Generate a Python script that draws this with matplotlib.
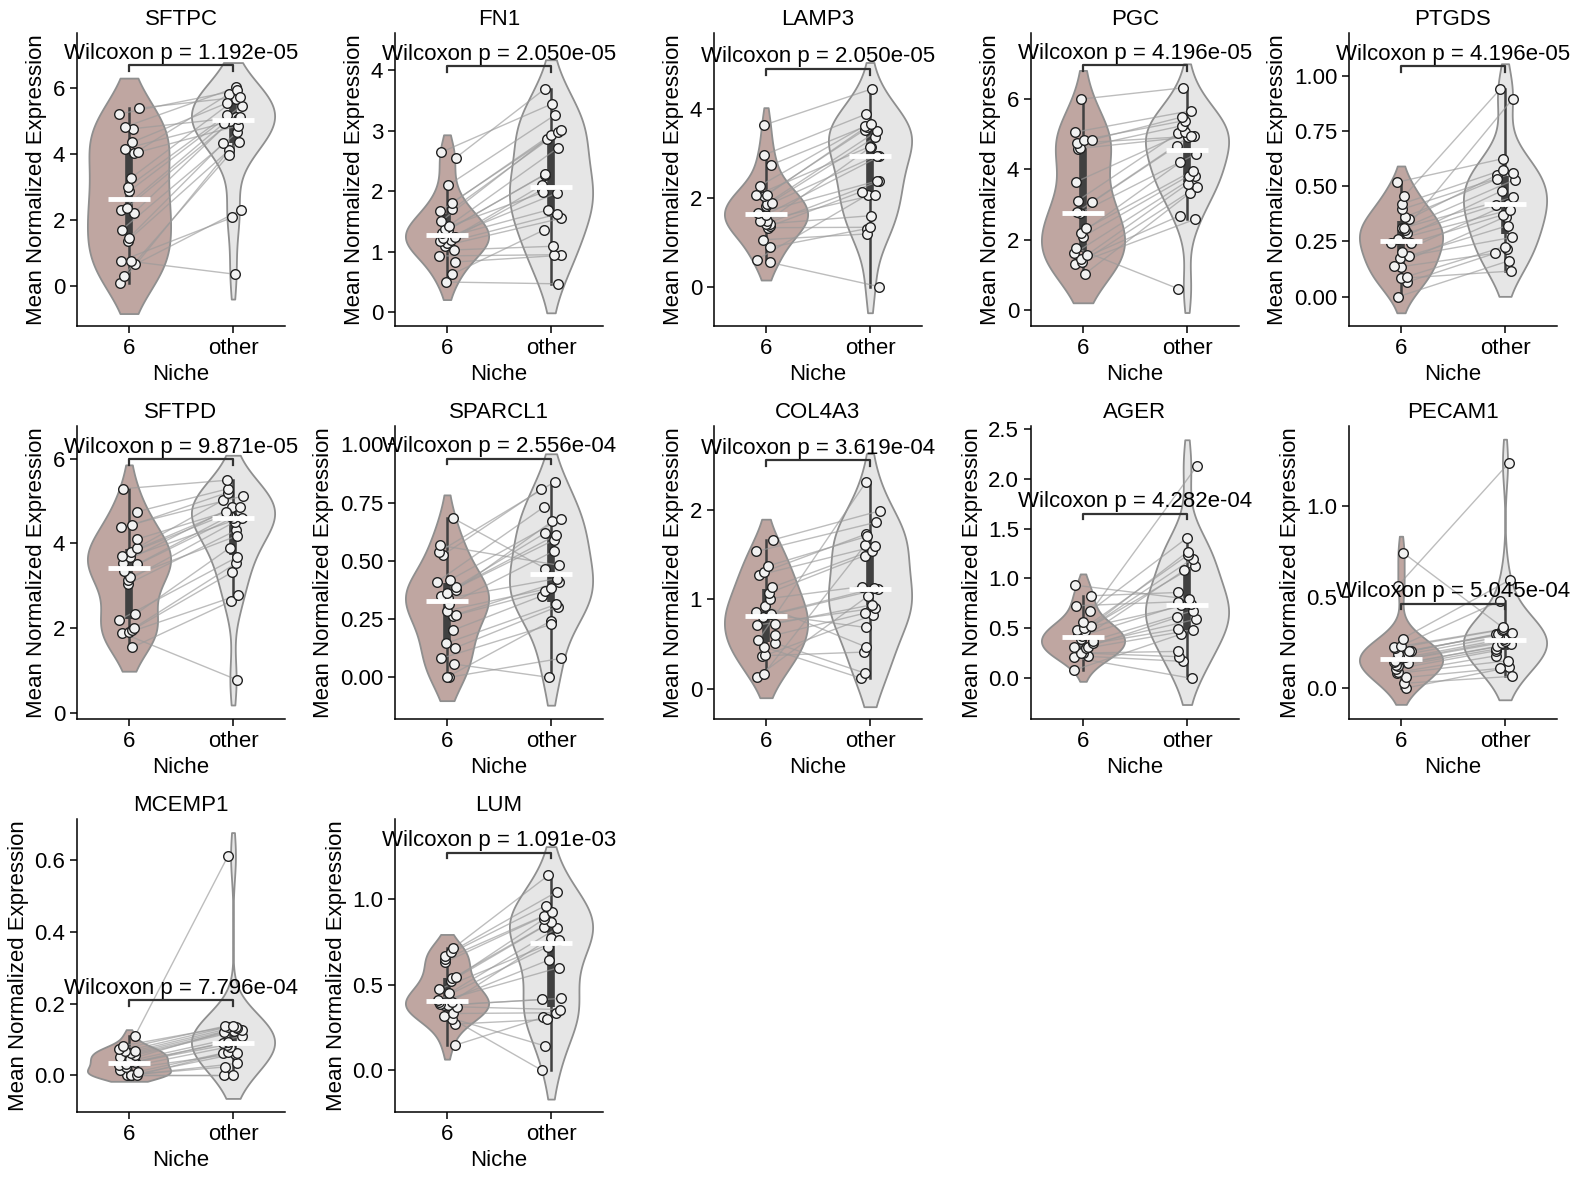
import numpy as np
import matplotlib
matplotlib.use('Agg')
import matplotlib.pyplot as plt

plt.rcParams['font.family'] = ['Liberation Sans', 'DejaVu Sans']

# paired values per gene: niche "6" and "other" (same order = same sample)
sftpc_6 = [0.08, 0.32, 0.66, 0.75, 0.76, 1.37, 1.45, 1.71, 2.22, 2.30, 2.37, 2.88, 3.00, 3.27, 4.02, 4.06, 4.16, 4.36, 4.77, 4.82, 5.21, 5.39]
sftpc_other = [4.11, 3.98, 2.31, 0.36, 2.08, 4.38, 4.33, 4.66, 5.00, 4.95, 5.12, 5.47, 5.19, 5.67, 5.82, 4.86, 5.05, 5.55, 5.12, 6.02, 5.93, 5.73]

fn1_6 = [0.50, 0.63, 0.83, 0.93, 1.03, 1.10, 1.15, 1.18, 1.20, 1.22, 1.25, 1.31, 1.36, 1.38, 1.42, 1.50, 1.67, 1.70, 1.81, 2.10, 2.55, 2.64]
fn1_other = [0.47, 1.36, 0.94, 0.95, 1.09, 1.55, 1.62, 1.97, 2.02, 1.69, 2.10, 2.27, 2.28, 2.72, 1.98, 2.86, 2.93, 2.97, 3.01, 3.26, 3.69, 3.44]

lamp3_6 = [0.55, 0.61, 0.89, 1.06, 1.33, 1.36, 1.42, 1.42, 1.47, 1.47, 1.62, 1.65, 1.82, 1.87, 1.88, 2.04, 2.06, 2.06, 2.27, 2.74, 2.96, 3.63]
lamp3_other = [0.01, 2.07, 1.31, 1.19, 1.34, 2.14, 1.60, 2.37, 3.15, 2.07, 2.93, 2.38, 3.36, 3.49, 2.95, 3.53, 3.15, 3.60, 3.62, 3.66, 3.88, 4.45]

pgc_6 = [1.02, 1.30, 1.36, 1.44, 1.57, 1.61, 1.76, 2.09, 2.18, 2.32, 2.75, 2.78, 3.06, 3.11, 3.64, 4.59, 4.61, 4.75, 4.84, 4.84, 5.06, 6.00]
pgc_other = [3.34, 2.58, 3.51, 2.68, 3.59, 3.80, 0.61, 3.82, 4.20, 3.96, 4.44, 4.91, 4.67, 5.03, 5.05, 4.94, 5.24, 4.94, 5.39, 5.49, 5.67, 6.32]

ptgds_6 = [0.0, 0.065, 0.083, 0.091, 0.136, 0.139, 0.177, 0.185, 0.204, 0.242, 0.242, 0.26, 0.287, 0.303, 0.310, 0.313, 0.352, 0.360, 0.396, 0.421, 0.457, 0.519]
ptgds_other = [0.162, 0.215, 0.116, 0.227, 0.197, 0.363, 0.269, 0.322, 0.42, 0.371, 0.48, 0.393, 0.416, 0.896, 0.45, 0.530, 0.552, 0.533, 0.560, 0.575, 0.941, 0.625]

sftpd_6 = [1.55, 1.89, 1.90, 1.96, 2.00, 2.19, 2.33, 3.04, 3.13, 3.22, 3.35, 3.51, 3.55, 3.68, 3.70, 3.81, 3.90, 4.10, 4.39, 4.43, 4.75, 5.29]
sftpd_other = [2.64, 0.78, 2.78, 3.32, 3.53, 3.67, 3.90, 4.31, 4.51, 4.18, 4.61, 4.65, 4.85, 4.61, 4.69, 4.75, 5.02, 4.85, 5.12, 5.20, 5.29, 5.49]

sparcl1_6 = [0.0, 0.0, 0.057, 0.081, 0.126, 0.146, 0.203, 0.264, 0.269, 0.286, 0.314, 0.34, 0.35, 0.364, 0.374, 0.386, 0.41, 0.419, 0.526, 0.540, 0.567, 0.683]
sparcl1_other = [0.081, 0.243, 0.0, 0.227, 0.304, 0.313, 0.35, 0.369, 0.41, 0.384, 0.543, 0.424, 0.589, 0.61, 0.669, 0.62, 0.733, 0.681, 0.807, 0.84, 0.481, 0.467]

col4a3_6 = [0.13, 0.167, 0.368, 0.372, 0.465, 0.509, 0.539, 0.599, 0.71, 0.725, 0.80, 0.83, 0.851, 0.926, 1.007, 1.067, 1.134, 1.268, 1.305, 1.372, 1.532, 1.662]
col4a3_other = [1.037, 1.599, 0.409, 0.825, 0.119, 0.175, 2.305, 0.844, 0.9, 0.937, 1.112, 1.12, 0.684, 0.465, 1.141, 1.487, 1.543, 1.59, 1.725, 1.70, 1.859, 1.985]

ager_6 = [0.083, 0.21, 0.22, 0.253, 0.253, 0.30, 0.317, 0.317, 0.35, 0.377, 0.393, 0.427, 0.443, 0.477, 0.487, 0.50, 0.527, 0.56, 0.67, 0.727, 0.827, 0.933]
ager_other = [0.443, 0.0, 0.17, 0.217, 0.27, 0.487, 0.61, 0.493, 0.593, 0.677, 1.083, 0.733, 1.127, 1.2, 0.743, 1.233, 1.267, 2.127, 1.41, 0.767, 0.86, 0.793]

pecam1_6 = [0.0, 0.026, 0.058, 0.08, 0.086, 0.104, 0.12, 0.126, 0.14, 0.145, 0.15, 0.168, 0.177, 0.186, 0.205, 0.205, 0.218, 0.223, 0.232, 0.272, 0.561, 0.744]
pecam1_other = [0.113, 0.064, 0.108, 0.15, 0.177, 0.205, 0.214, 0.229, 0.24, 0.25, 0.26, 0.269, 0.28, 0.296, 0.296, 0.305, 0.32, 0.324, 0.479, 0.594, 1.238, 0.333]

mcemp1_6 = [0.0, 0.0, 0.0, 0.0, 0.0, 0.0, 0.01, 0.015, 0.022, 0.028, 0.031, 0.038, 0.042, 0.045, 0.05, 0.056, 0.061, 0.067, 0.068, 0.072, 0.082, 0.11]
mcemp1_other = [0.0, 0.023, 0.0, 0.033, 0.059, 0.061, 0.065, 0.061, 0.08, 0.085, 0.089, 0.093, 0.109, 0.121, 0.124, 0.126, 0.131, 0.135, 0.135, 0.137, 0.138, 0.613]

lum_6 = [0.146, 0.27, 0.299, 0.316, 0.332, 0.371, 0.38, 0.381, 0.39, 0.40, 0.40, 0.41, 0.449, 0.473, 0.521, 0.537, 0.543, 0.631, 0.65, 0.668, 0.693, 0.713]
lum_other = [0.309, 0.297, 0.0, 0.141, 0.336, 0.355, 0.42, 0.414, 0.645, 0.60, 0.775, 0.723, 0.83, 0.76, 0.84, 0.869, 0.883, 0.902, 0.924, 0.963, 1.045, 1.139]

genes = ['SFTPC', 'FN1', 'LAMP3', 'PGC', 'PTGDS', 'SFTPD', 'SPARCL1', 'COL4A3',
         'AGER', 'PECAM1', 'MCEMP1', 'LUM']
p_labels = ['1.192e-05', '2.050e-05', '2.050e-05', '4.196e-05', '4.196e-05', '9.871e-05',
            '2.556e-04', '3.619e-04', '4.282e-04', '5.045e-04', '7.796e-04', '1.091e-03']
bracket_y = [6.69, 4.06, 4.90, 6.96, 1.044, 5.98, 0.939, 2.554, 1.65, 0.464, 0.21, 1.273]
y_limits = [(-1.21, 7.67), (-0.226, 4.61), (-0.876, 5.70), (-0.456, 7.88), (-0.133, 1.195),
            (-0.14, 6.77), (-0.179, 1.079), (-0.338, 2.933), (-0.407, 2.527), (-0.17, 1.439),
            (-0.103, 0.716), (-0.244, 1.469)]
y_ticks = [[0, 2, 4, 6], [0, 1, 2, 3, 4], [0, 2, 4], [0, 2, 4, 6], [0, 0.25, 0.5, 0.75, 1.0],
           [0, 2, 4, 6], [0, 0.25, 0.5, 0.75, 1.0], [0, 1, 2], [0, 0.5, 1.0, 1.5, 2.0, 2.5],
           [0, 0.5, 1.0], [0, 0.2, 0.4, 0.6], [0, 0.5, 1.0]]
groups = ['6', 'other']

values = [(sftpc_6, sftpc_other), (fn1_6, fn1_other), (lamp3_6, lamp3_other),
          (pgc_6, pgc_other), (ptgds_6, ptgds_other), (sftpd_6, sftpd_other),
          (sparcl1_6, sparcl1_other), (col4a3_6, col4a3_other), (ager_6, ager_other),
          (pecam1_6, pecam1_other), (mcemp1_6, mcemp1_other), (lum_6, lum_other)]

colors = ['#bfa6a1', '#e6e6e6']
edge = '#8f8f8f'
box_col = '#404040'


def kde_curve(vals, cut=1.0, n=120):
    v = np.asarray(vals, float)
    bw = v.std(ddof=1) * len(v) ** (-1 / 5)
    grid = np.linspace(v.min() - cut * bw, v.max() + cut * bw, n)
    dens = np.exp(-0.5 * ((grid[:, None] - v[None, :]) / bw) ** 2).sum(axis=1)
    return grid, dens / dens.max()


def draw_panel(ax, gene, pair, plab, h, ylim, yt, rng):
    span = ylim[1] - ylim[0]
    jit = []
    for x, (vals, col) in enumerate(zip(pair, colors)):
        v = np.asarray(vals, float)
        grid, d = kde_curve(v)
        ax.fill_betweenx(grid, x - 0.4 * d, x + 0.4 * d, facecolor=col,
                         edgecolor=edge, lw=1.3, zorder=1)
        q1, q3 = np.percentile(v, [25, 75])
        iqr = q3 - q1
        lo = v[v >= q1 - 1.5 * iqr].min()
        hi = v[v <= q3 + 1.5 * iqr].max()
        ax.plot([x, x], [lo, hi], color=box_col, lw=1.8, zorder=2)
        ax.plot([x, x], [q1, q3], color=box_col, lw=5.5, solid_capstyle='butt', zorder=2)
        ax.hlines(np.median(v), x - 0.2, x + 0.2, color='white', lw=3.5, zorder=6)
        jit.append(x + rng.uniform(-0.1, 0.1, len(v)))

    for a, b, xa, xb in zip(pair[0], pair[1], jit[0], jit[1]):
        ax.plot([xa, xb], [a, b], color='#9a9a9a', alpha=0.65, lw=1.0, zorder=3)
    for x in range(2):
        ax.scatter(jit[x], pair[x], s=48, facecolor='#f2f2f2', edgecolor='#222222',
                   linewidth=1.0, zorder=4)

    t = 0.02 * span
    ax.plot([0, 0, 1, 1], [h - t, h, h, h - t], color='#333333', lw=1.6, zorder=5)
    ax.text(0.5, h + 0.004 * span, 'Wilcoxon p = ' + plab, ha='center', va='bottom',
            fontsize=16, zorder=7)

    ax.set_xlim(-0.5, 1.5)
    ax.set_ylim(*ylim)
    ax.set_yticks(yt)
    ax.set_xticks([0, 1])
    ax.set_xticklabels(groups)
    ax.tick_params(labelsize=16, length=5, width=1.1)
    ax.set_title(gene, fontsize=16)
    ax.set_xlabel('Niche', fontsize=16)
    ax.set_ylabel('Mean Normalized Expression', fontsize=16)
    ax.spines['top'].set_visible(False)
    ax.spines['right'].set_visible(False)
    for s in ('left', 'bottom'):
        ax.spines[s].set_linewidth(1.1)


W, H = 1580, 1177
fig = plt.figure(figsize=(W / 100, H / 100), dpi=100)
lefts = [77, 395, 714, 1031, 1349]
tops = [33, 426, 819]
aw, ah = 208, 293
rng = np.random.default_rng(3)

for i, gene in enumerate(genes):
    r, c = divmod(i, 5)
    ax = fig.add_axes([lefts[c] / W, 1 - (tops[r] + ah) / H, aw / W, ah / H])
    draw_panel(ax, gene, values[i], p_labels[i], bracket_y[i], y_limits[i], y_ticks[i], rng)

fig.savefig('out.png', dpi=100)
